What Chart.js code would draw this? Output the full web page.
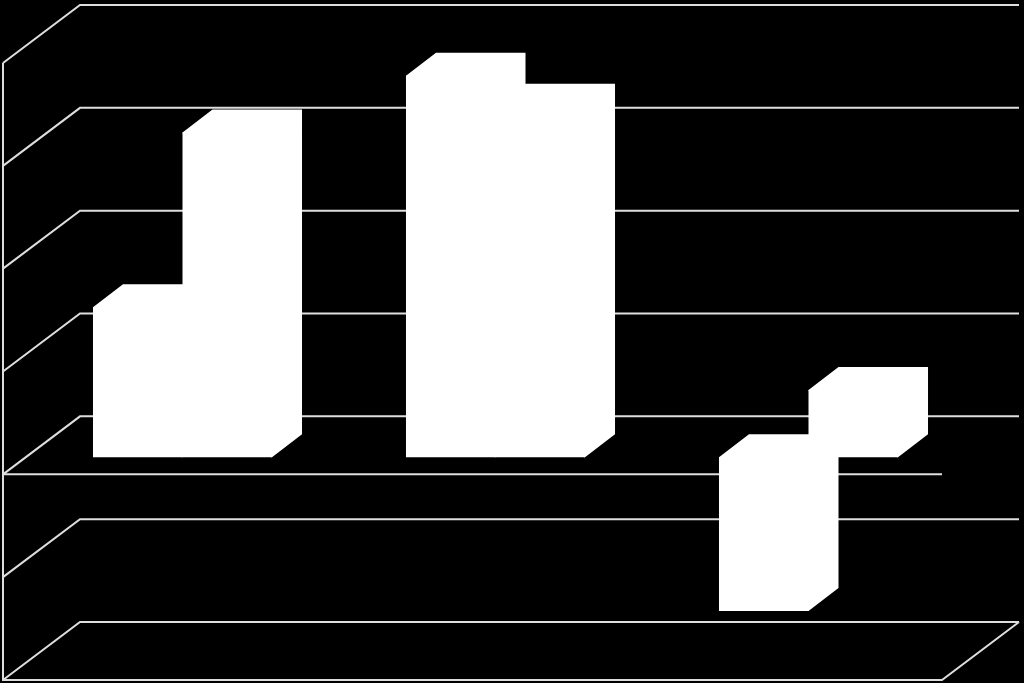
<!DOCTYPE html>
<html>
<head>
<meta charset="utf-8">
<title>3D bar chart</title>
<script src="https://cdn.jsdelivr.net/npm/chart.js@4/dist/chart.umd.min.js"></script>
<style>
    html, body { margin: 0; padding: 0; background: #000; }
    canvas { display: block; }
</style>
</head>
<body>
<canvas id="chart" width="1024" height="683"></canvas>
<script>
// values, in grid steps (the original has no labels)
const categories = ['', ' ', '  '];
const seriesA = [1.46, 3.71, -1.495];
const seriesB = [3.16, 3.41, 0.655];
const tickValues = [-2, -1, 0, 1, 2, 3, 4];

const lineColor = '#dedede';
const wallDepth = { x: 77, y: -58 };  // front of floor -> back wall
const barShift = { x: 23, y: -17 };   // front of floor -> front of bars
const barDepth = { x: 30, y: -23 };   // front of bars -> back of bars

function strokePath(ctx, points) {
    ctx.beginPath();
    points.forEach((p, i) => i ? ctx.lineTo(p[0], p[1]) : ctx.moveTo(p[0], p[1]));
    ctx.stroke();
}

function fillPath(ctx, points) {
    ctx.beginPath();
    points.forEach((p, i) => i ? ctx.lineTo(p[0], p[1]) : ctx.moveTo(p[0], p[1]));
    ctx.closePath();
    ctx.fill();
}

const depthPlugin = {
    id: 'depth',
    beforeDatasetsDraw(chart) {
        const { ctx, chartArea, scales } = chart;
        const left = chartArea.left, right = chartArea.right;
        const backLeft = left + wallDepth.x, backRight = right + wallDepth.x;

        ctx.save();
        ctx.strokeStyle = lineColor;
        ctx.lineWidth = 2;

        // wall lines for each tick, running from the side wall along the back wall
        tickValues.forEach(v => {
            const y = scales.y.getPixelForValue(v);
            strokePath(ctx, [[left, y], [backLeft, y + wallDepth.y], [backRight, y + wallDepth.y]]);
        });

        // left axis, floor front and right edge, zero line
        const bottom = scales.y.getPixelForValue(tickValues[0]);
        const top = scales.y.getPixelForValue(tickValues[tickValues.length - 1]);
        strokePath(ctx, [[left, top], [left, bottom], [right, bottom], [backRight, bottom + wallDepth.y]]);
        const zero = scales.y.getPixelForValue(0);
        strokePath(ctx, [[left, zero], [right, zero]]);
        ctx.restore();

        // bars stand in a plane pushed back from the front of the floor
        ctx.save();
        ctx.translate(barShift.x, barShift.y);
    },
    afterDatasetsDraw(chart) {
        const { ctx } = chart;
        ctx.fillStyle = '#ffffff';
        chart.data.datasets.forEach((ds, i) => {
            chart.getDatasetMeta(i).data.forEach(bar => {
                const { x, y, base, width } = bar.getProps(['x', 'y', 'base', 'width'], true);
                const l = x - width / 2, r = x + width / 2;
                const top = Math.min(y, base), bottom = Math.max(y, base);
                // top and side faces as one shape, lapped 1px over the front so no seam shows
                fillPath(ctx, [
                    [l, top],
                    [l + barDepth.x, top + barDepth.y],
                    [r + barDepth.x, top + barDepth.y],
                    [r + barDepth.x, bottom + barDepth.y],
                    [r, bottom],
                    [r - 1, bottom],
                    [r - 1, top + 1],
                    [l, top + 1]
                ]);
            });
        });
        ctx.restore();
    }
};

new Chart(document.getElementById('chart'), {
    type: 'bar',
    data: {
        labels: categories,
        datasets: [
            { label: 'A', data: seriesA, backgroundColor: '#ffffff', borderWidth: 0, clip: false },
            { label: 'B', data: seriesB, backgroundColor: '#ffffff', borderWidth: 0, clip: false }
        ]
    },
    plugins: [depthPlugin],
    options: {
        responsive: false,
        animation: false,
        layout: { padding: { left: 3, right: 82, top: 63, bottom: 3 } },
        barPercentage: 1,
        categoryPercentage: 0.572,
        plugins: { legend: { display: false }, tooltip: { enabled: false } },
        scales: {
            x: { display: false },
            y: { display: false, min: -2, max: 4, ticks: { stepSize: 1 } }
        }
    }
});
</script>
</body>
</html>
